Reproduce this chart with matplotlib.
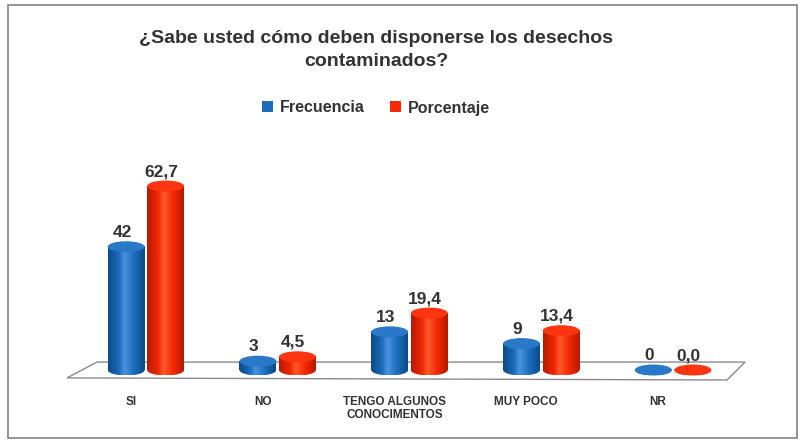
import numpy as np
import matplotlib
matplotlib.use('Agg')
import matplotlib.pyplot as plt
from matplotlib.patches import Ellipse, Rectangle, Polygon
from matplotlib.colors import LinearSegmentedColormap

plt.rcParams['font.family'] = ['Liberation Sans', 'DejaVu Sans']

# datos del grafico
categorias = ['SI', 'NO', 'TENGO ALGUNOS\nCONOCIMENTOS', 'MUY POCO', 'NR']
frecuencia = [42, 3, 13, 9, 0]
porcentaje = [62.7, 4.5, 19.4, 13.4, 0.0]
etiq_frec = ['42', '3', '13', '9', '0']
etiq_porc = ['62,7', '4,5', '19,4', '13,4', '0,0']
series = ['Frecuencia', 'Porcentaje']

titulo = '¿Sabe usted cómo deben disponerse los desechos\ncontaminados?'

# colores tipo excel (cilindros con degradado)
azul = ['#0b4a86', '#1c6cbb', '#4a93dd', '#1d6ebf', '#0b4a86']
rojo = ['#b51a00', '#f02600', '#ff5a30', '#f52800', '#b51a00']
tapa_azul = '#2a78c8'
tapa_rojo = '#ff3410'
texto = '#333333'

cmap_azul = LinearSegmentedColormap.from_list('az', list(zip([0, .3, .45, .7, 1], azul)))
cmap_rojo = LinearSegmentedColormap.from_list('ro', list(zip([0, .3, .45, .7, 1], rojo)))

W, H = 801, 440
fig = plt.figure(figsize=(W / 100, H / 100), dpi=100)
fig.patch.set_facecolor('white')

# marco exterior
fig.add_artist(Rectangle((8 / W, 1 - 438 / H), 789 / W, 433 / H, transform=fig.transFigure,
                         fill=False, ec='#8c8c8c', lw=1.3))

px_y = 205.4 / 70          # pixeles por unidad
y_min, y_max = -8, 70
base_px = 370              # fila de pixel del valor 0
ax = fig.add_axes([80 / W, (H - base_px + y_min * px_y) / H, 659 / W, (y_max - y_min) * px_y / H])
ax.axis('off')

ell_h = 11 / px_y          # alto de la elipse
ancho = 0.28
desp = 0.15

# piso
piso = Polygon([(-0.599, -2.7), (-0.371, 2.7), (4.546, 2.7), (4.409, -3.4)],
               closed=True, fc='white', ec='#8a8a8a', lw=1.0, zorder=1, clip_on=False)
ax.add_patch(piso)

grad = np.linspace(0, 1, 128).reshape(1, -1)


def cilindro(xc, h, cmap, tapa, z):
    x0, x1 = xc - ancho / 2, xc + ancho / 2
    base = Ellipse((xc, 0), ancho, ell_h, transform=ax.transData)
    im = ax.imshow(grad, extent=(x0, x1, -ell_h / 2, 0), aspect='auto', cmap=cmap,
                   zorder=z, interpolation='bilinear')
    im.set_clip_path(base)
    if h > 0:
        ax.imshow(grad, extent=(x0, x1, 0, h), aspect='auto', cmap=cmap,
                  zorder=z, interpolation='bilinear')
    ax.add_patch(Ellipse((xc, h), ancho, ell_h, fc=tapa, ec='none', zorder=z + 0.1))


for i in range(len(categorias)):
    xb = i - desp
    xr = i + desp
    cilindro(xb, frecuencia[i], cmap_azul, tapa_azul, 3)
    cilindro(xr, porcentaje[i], cmap_rojo, tapa_rojo, 4)
    ax.annotate(etiq_frec[i], (xb, frecuencia[i]), xytext=(-3, 5), textcoords='offset points',
                ha='center', va='bottom', fontsize=12.5, fontweight='bold', color=texto)
    ax.annotate(etiq_porc[i], (xr, porcentaje[i]), xytext=(-3, 5), textcoords='offset points',
                ha='center', va='bottom', fontsize=12.5, fontweight='bold', color=texto)
    ax.text(i - 0.115, -26 / px_y, categorias[i], ha='center', va='top', fontsize=8.5,
            fontweight='bold', color=texto, linespacing=1.15)

ax.set_xlim(-0.5, 4.5)
ax.set_ylim(y_min, y_max)

# titulo
fig.text(376 / W, 1 - 30 / H, titulo, ha='center', va='top', fontsize=14, fontweight='bold',
         color=texto, linespacing=1.5)

# leyenda
handles = [Rectangle((0, 0), 1, 1, fc='#1c6cbb'), Rectangle((0, 0), 1, 1, fc='#f52800')]
leg = fig.legend(handles, series, loc='center', bbox_to_anchor=(376 / W, 1 - 108 / H), ncol=2,
                 frameon=False, handlelength=0.7, handleheight=0.7, handletextpad=0.4,
                 columnspacing=1.6, prop={'weight': 'bold', 'size': 11.5})
for t in leg.get_texts():
    t.set_color(texto)

fig.savefig('out.png', dpi=100)
